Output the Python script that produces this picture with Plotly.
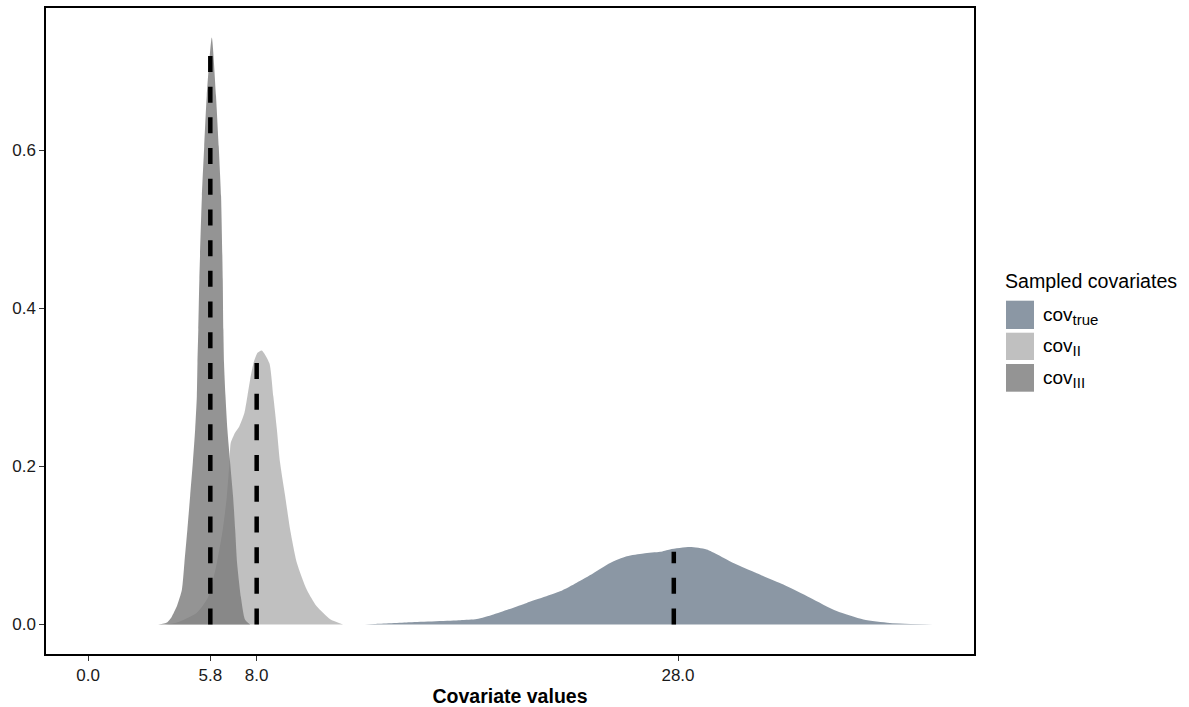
import plotly.graph_objects as go

# Kernel density estimates of the sampled covariates (x value, density)
true_x = [12.9, 13.6, 15.28, 17.66, 18.45, 19.24, 20.82, 22.40, 23.19, 23.98, 24.78,
          25.57, 26.36, 27.15, 27.62, 28.57, 29.36, 30.63, 31.74, 33.0, 34.27, 35.53,
          36.8, 38.06, 40.1]
true_d = [0.0, 0.0008, 0.003, 0.0055, 0.007, 0.0127, 0.0274, 0.042, 0.053, 0.065, 0.078,
          0.0865, 0.090, 0.092, 0.095, 0.098, 0.095, 0.078, 0.065, 0.0506, 0.034, 0.017,
          0.0063, 0.002, 0.0]

ii_x = [3.65, 4.21, 5.16, 5.70, 6.11, 6.39, 6.58, 6.71, 6.77, 6.98, 7.18, 7.42, 7.56,
        7.69, 7.85, 8.04, 8.24, 8.60, 8.79, 8.96, 9.11, 9.35, 9.59, 9.91, 10.38, 10.85,
        11.49, 12.1]
ii_d = [0.0, 0.0025, 0.015, 0.035, 0.078, 0.120, 0.161, 0.205, 0.230, 0.243, 0.251,
        0.268, 0.289, 0.310, 0.331, 0.344, 0.347, 0.331, 0.289, 0.247, 0.205, 0.163,
        0.120, 0.078, 0.044, 0.023, 0.0067, 0.0]

iii_x = [3.32, 3.74, 3.97, 4.21, 4.45, 4.57, 4.71, 4.84, 4.97, 5.08, 5.16, 5.19, 5.23,
         5.28, 5.40, 5.51, 5.63, 5.87, 6.07, 6.20, 6.31, 6.39, 6.42, 6.45, 6.52, 6.61,
         6.74, 6.88, 6.98, 7.07, 7.25, 7.45, 7.69]
iii_d = [0.0, 0.0025, 0.010, 0.023, 0.044, 0.078, 0.120, 0.162, 0.205, 0.247, 0.289,
         0.331, 0.373, 0.437, 0.542, 0.605, 0.669, 0.743, 0.669, 0.605, 0.542, 0.437,
         0.373, 0.331, 0.289, 0.247, 0.205, 0.162, 0.120, 0.078, 0.035, 0.006, 0.0]

# Sample means and the density reached at each mean
mean_x = [27.8, 8.0, 5.8]
mean_d = [0.092, 0.333, 0.722]

series_names = ["cov", "cov", "cov"]
series_subs = ["true", "II", "III"]
fill_colors = ["rgba(110,125,141,0.8)", "rgba(176,176,176,0.8)", "rgba(121,121,121,0.8)"]

x_ticks = [0.0, 5.8, 8.0, 28.0]
x_tick_text = ["0.0", "5.8", "8.0", "28.0"]
y_ticks = [0.0, 0.2, 0.4, 0.6]
y_tick_text = ["0.0", "0.2", "0.4", "0.6"]

FONT = "Liberation Sans, Arial, sans-serif"
W, H = 1189, 707
M_L, M_R, M_T, M_B = 46, 215, 8, 53
PW, PH = W - M_L - M_R, H - M_T - M_B


def paper_x(px):
    return (px - M_L) / PW


def paper_y(py):
    return (H - M_B - py) / PH


def label(base, sub):
    return f"{base}<sub><span style='font-size:15px'>{sub}</span></sub>"


fig = go.Figure()

for xs, ds, base, sub, col in zip([true_x, ii_x, iii_x], [true_d, ii_d, iii_d],
                                  series_names, series_subs, fill_colors):
    fig.add_trace(go.Scatter(x=xs, y=ds, mode="lines", name=label(base, sub),
                             line=dict(width=0, shape="spline", smoothing=0.6),
                             fill="tozeroy", fillcolor=col, showlegend=False,
                             hoverinfo="skip"))

for mx, md in zip(mean_x, mean_d):
    fig.add_trace(go.Scatter(x=[mx, mx], y=[0, md], mode="lines",
                             line=dict(color="black", width=4.5, dash="16px,14.7px"),
                             showlegend=False, hoverinfo="skip"))

# Legend drawn as keys + labels to the right of the panel
key_rows = [(300.7, 329), (332.7, 360), (364, 391.7)]
shapes = []
annotations = []
for (top, bot), base, sub, col in zip(key_rows, series_names, series_subs, fill_colors):
    shapes.append(dict(type="rect", xref="paper", yref="paper",
                       x0=paper_x(1006), x1=paper_x(1034),
                       y0=paper_y(bot), y1=paper_y(top),
                       fillcolor=col, line=dict(width=0)))
    annotations.append(dict(xref="paper", yref="paper", x=paper_x(1041),
                            y=paper_y((top + bot) / 2 + 1), xanchor="left",
                            yanchor="middle", text=label(base, sub), showarrow=False,
                            font=dict(family=FONT, size=19, color="black")))
annotations.append(dict(xref="paper", yref="paper", x=paper_x(1003), y=paper_y(281),
                        xanchor="left", yanchor="middle", text="Sampled covariates",
                        showarrow=False, font=dict(family=FONT, size=19.6, color="black")))

fig.update_layout(
    width=W, height=H,
    margin=dict(l=M_L, r=M_R, t=M_T, b=M_B, autoexpand=False),
    paper_bgcolor="white", plot_bgcolor="white",
    font=dict(family=FONT, color="black"),
    shapes=shapes, annotations=annotations,
    xaxis=dict(range=[-2.0, 42.05], tickvals=x_ticks, ticktext=x_tick_text,
               showgrid=False, zeroline=False, showline=True, mirror=True,
               linecolor="black", linewidth=1.5, ticks="outside", ticklen=5,
               tickcolor="#333333", tickwidth=1.2, automargin=False,
               tickfont=dict(family=FONT, size=17, color="#1a1a1a"),
               title=dict(text="<b>Covariate values</b>", standoff=6,
                          font=dict(family=FONT, size=19.5, color="black"))),
    yaxis=dict(range=[-0.0373, 0.7804], tickvals=y_ticks, ticktext=y_tick_text,
               showgrid=False, zeroline=False, showline=True, mirror=True,
               linecolor="black", linewidth=1.5, ticks="outside", ticklen=5,
               tickcolor="#333333", tickwidth=1.2, automargin=False,
               tickfont=dict(family=FONT, size=17, color="#1a1a1a")),
)

fig.write_html("out.html")
